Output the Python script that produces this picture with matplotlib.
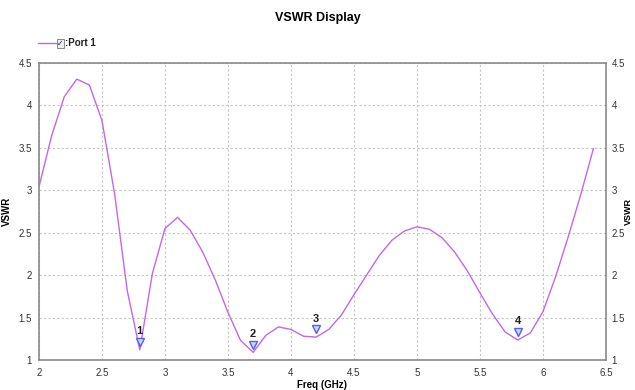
import matplotlib
matplotlib.use("Agg")
import matplotlib.pyplot as plt
from matplotlib.patches import Rectangle
from matplotlib.lines import Line2D

plt.rcParams['font.family'] = ['Liberation Sans Narrow', 'Liberation Sans', 'DejaVu Sans']

# VSWR sweep, 0.1 GHz steps
freq = [2.0, 2.1, 2.2, 2.3, 2.4, 2.5, 2.6, 2.7, 2.8, 2.9,
        3.0, 3.1, 3.2, 3.3, 3.4, 3.5, 3.6, 3.7, 3.8, 3.9,
        4.0, 4.1, 4.2, 4.3, 4.4, 4.5, 4.6, 4.7, 4.8, 4.9,
        5.0, 5.1, 5.2, 5.3, 5.4, 5.5, 5.6, 5.7, 5.8, 5.9,
        6.0, 6.1, 6.2, 6.3, 6.4]
vswr = [3.04, 3.64, 4.10, 4.31, 4.24, 3.82, 2.96, 1.82, 1.12, 2.02,
        2.55, 2.68, 2.53, 2.27, 1.94, 1.56, 1.23, 1.09, 1.29, 1.39,
        1.36, 1.28, 1.27, 1.36, 1.53, 1.77, 2.00, 2.23, 2.41, 2.52,
        2.57, 2.54, 2.44, 2.27, 2.05, 1.79, 1.54, 1.33, 1.235, 1.32,
        1.57, 1.98, 2.45, 2.95, 3.49]

# markers
marker_ids = ['1', '2', '3', '4']
marker_freq = [2.8, 3.7, 4.2, 5.8]

xticks = [2, 2.5, 3, 3.5, 4, 4.5, 5, 5.5, 6, 6.5]
yticks = [1, 1.5, 2, 2.5, 3, 3.5, 4, 4.5]

line_color = '#c068ea'
marker_color = '#4f5cf5'

fig = plt.figure(figsize=(6.35, 3.9), dpi=100)
ax = fig.add_axes([0.0614, 0.0769, 0.8929, 0.7616])

ax.plot(freq, vswr, color=line_color, lw=1.0)

for mid, mf in zip(marker_ids, marker_freq):
    mv = vswr[freq.index(mf)]
    ax.plot(mf, mv + 0.09, marker='v', ms=5.5, mfc='#d0d4ff', mec=marker_color, mew=1.0)
    ax.text(mf, mv + 0.16, mid, ha='center', va='bottom', fontsize=8,
            fontweight='bold', color='#222222')

ax.set_xlim(2, 6.5)
ax.set_ylim(1, 4.5)
ax.set_xticks(xticks)
ax.set_xticklabels([f'{t:g}' for t in xticks])
ax.set_yticks(yticks)
ax.set_yticklabels([f'{t:g}' for t in yticks])
ax.tick_params(axis='x', length=0, labelsize=7, colors='#333333', pad=6)
ax.tick_params(axis='y', length=0, labelsize=7, colors='#333333', pad=5)
ax.grid(True, ls=(0, (2, 2)), color='#c4c4c4', lw=0.8)

for s in ax.spines.values():
    s.set_color('#8a8a8a')
    s.set_linewidth(1.2)

# mirrored scale on the right
ax2 = ax.twinx()
ax2.set_ylim(1, 4.5)
ax2.set_yticks(yticks)
ax2.set_yticklabels([f'{t:g}' for t in yticks])
ax2.tick_params(axis='y', length=0, labelsize=7, colors='#333333', pad=4)
ax2.set_ylabel('VSWR', fontsize=6.5, fontweight='bold', labelpad=-1, rotation=90)
for s in ax2.spines.values():
    s.set_visible(False)

ax.set_ylabel('VSWR', fontsize=7, fontweight='bold', labelpad=5)
ax.set_xlabel('Freq (GHz)', fontsize=7, fontweight='bold', labelpad=1)

fig.text(0.5, 0.955, 'VSWR Display', ha='center', va='center', fontsize=9,
         fontweight='bold', family=['Liberation Sans', 'DejaVu Sans'])

# legend entry: line sample, checkbox, port name
fig.add_artist(Line2D([0.06, 0.089], [0.889, 0.889], color=line_color, lw=1.0))
fig.add_artist(Rectangle((0.089, 0.878), 0.011, 0.023, facecolor='#ececec',
                         edgecolor='#777777', lw=0.6))
fig.text(0.0945, 0.889, '✓', ha='center', va='center', fontsize=5.5,
         family='DejaVu Sans', color='#222222')
fig.text(0.102, 0.889, ':Port 1', ha='left', va='center', fontsize=7,
         fontweight='bold', color='#222222')

fig.savefig('out.png', dpi=100)
